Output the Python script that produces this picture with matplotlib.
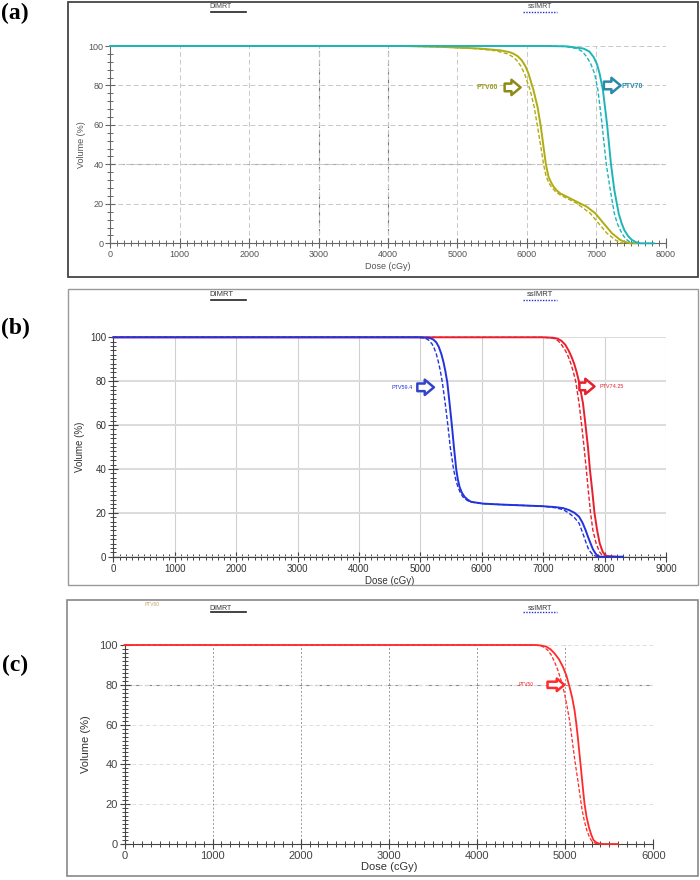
import matplotlib
matplotlib.use("Agg")
import matplotlib.pyplot as plt
from matplotlib.patches import Rectangle
from matplotlib.lines import Line2D
from matplotlib.ticker import MultipleLocator

# ---------------- data ----------------
# Panel (a)
a_ptv60_dimrt_dose = [0, 4200, 4800, 5327, 5615, 5750, 5808, 5870, 5928, 5980, 6024, 6096, 6154, 6202,
                      6240, 6274, 6312, 6350, 6385, 6430, 6481, 6673, 6865, 6986, 7106, 7226, 7346, 7420,
                      7490, 7600]
a_ptv60_dimrt_vol = [100, 100, 99.5, 98.7, 97.8, 96.9, 96.1, 94.8, 92.7, 89.7, 86, 77.6, 69.1, 59,
                     48.9, 40.1, 33.7, 30.8, 28.7, 26.8, 25.3, 21.9, 18.5, 15.2, 10.1, 5.1, 1.7, 0.6,
                     0, 0]
a_ptv60_ss_dose = [0, 4200, 4800, 5300, 5550, 5712, 5790, 5856, 5915, 5966, 6048, 6106, 6154, 6202,
                   6240, 6279, 6315, 6351, 6410, 6481, 6721, 6913, 7034, 7154, 7274, 7330, 7394]
a_ptv60_ss_vol = [100, 100, 99.5, 98.6, 97.6, 96.1, 94.7, 92.7, 89.7, 86, 77.6, 69.1, 59, 48.9,
                  40.1, 33.7, 30.8, 28.7, 26.3, 24.5, 20.2, 15.2, 10.1, 5.1, 1.7, 0.6, 0]
a_ptv70_dimrt_dose = [0, 6300, 6577, 6817, 6900, 6962, 7010, 7048, 7096, 7154, 7212, 7260, 7322, 7365,
                      7404, 7460, 7514, 7570, 7635, 7827]
a_ptv70_dimrt_vol = [100, 100, 99.8, 98.7, 97.2, 94.4, 90.8, 86, 77.6, 60.7, 40.1, 27, 15.2, 10.2,
                     6.7, 3.6, 1.7, 0.6, 0, 0]
a_ptv70_ss_dose = [0, 6300, 6550, 6721, 6800, 6865, 6925, 6976, 7024, 7082, 7144, 7202, 7260, 7300,
                   7346, 7395, 7442, 7490, 7538]
a_ptv70_ss_vol = [100, 100, 99.8, 98.7, 97.2, 94.4, 90.6, 86, 77.6, 60.7, 40.1, 27, 15.2, 10.3,
                  6.7, 3.6, 1.7, 0.6, 0]

# Panel (b)
b_ptv594_dimrt_dose = [0, 5000, 5151, 5210, 5259, 5300, 5341, 5375, 5405, 5438, 5476, 5514, 5546, 5584,
                       5610, 5638, 5675, 5719, 5770, 5827, 6016, 6286, 7000, 7200, 7330, 7426, 7510,
                       7585, 7640, 7691, 7730, 7771, 7810, 7851, 7890, 7931, 8300]
b_ptv594_dimrt_vol = [100, 100, 99.7, 99, 97.7, 95.6, 92.4, 88.8, 84.8, 79.5, 69.7, 59.5, 50, 39.7,
                      35.2, 31.8, 29.2, 27.3, 26, 25, 24.2, 23.8, 23.0, 22.6, 22.1, 21.2, 20,
                      18.2, 15.5, 12.1, 9, 6.1, 3.4, 1.5, 0.4, 0, 0]
b_ptv594_ss_dose = [0, 4950, 5070, 5130, 5189, 5225, 5259, 5292, 5324, 5357, 5405, 5449, 5486, 5541,
                    5575, 5611, 5650, 5692, 5745, 5800, 6016, 6286, 7000, 7200, 7330, 7426, 7510,
                    7585, 7625, 7665, 7705, 7745, 7800, 7851, 7900]
b_ptv594_ss_vol = [100, 100, 99.7, 98.8, 97, 95, 92.4, 88.9, 84.8, 79.5, 69.7, 59.5, 50, 39.7,
                   35.2, 31.8, 29.2, 27.3, 26, 25, 24.2, 23.8, 23.0, 22.3, 21.4, 19.7, 17.8,
                   15.2, 12.2, 9.1, 5.8, 3, 1.2, 0.3, 0]
b_ptv7425_dimrt_dose = [0, 7000, 7160, 7230, 7293, 7360, 7415, 7460, 7505, 7545, 7585, 7649, 7691, 7729,
                        7761, 7798, 7835, 7878, 7920, 7968, 8000, 8037, 8170]
b_ptv7425_dimrt_vol = [100, 100, 99.8, 99.4, 98.5, 96.6, 93.9, 91.2, 87.9, 84.1, 79.5, 69.7, 59.5, 50,
                       39.7, 30.3, 20, 12.1, 6.1, 2.3, 1, 0.3, 0]
b_ptv7425_ss_dose = [0, 6980, 7120, 7180, 7239, 7300, 7362, 7410, 7452, 7492, 7532, 7585, 7628, 7665,
                     7702, 7734, 7771, 7809, 7862, 7915, 7950, 7984, 8100]
b_ptv7425_ss_vol = [100, 100, 99.8, 99.4, 98.5, 96.6, 93.9, 91.1, 87.9, 84.1, 79.5, 69.7, 59.5, 50,
                    39.7, 30.3, 20, 12.1, 6.1, 2.3, 1, 0.3, 0]

# Panel (c)
c_ptv50_dimrt_dose = [0, 4650, 4720, 4785, 4835, 4879, 4930, 4974, 5015, 5049, 5080, 5106, 5125, 5143,
                      5162, 5181, 5200, 5219, 5242, 5268, 5295, 5321, 5355, 5389, 5430, 5600]
c_ptv50_dimrt_vol = [100, 100, 99.8, 99.2, 97.8, 95.8, 92.8, 89.1, 84.5, 79, 73.5, 67.3, 61, 53.9,
                     45.5, 37.2, 28.6, 20.4, 13.8, 8.7, 4.8, 2, 0.7, 0.2, 0, 0]
c_ptv50_ss_dose = [0, 4620, 4700, 4747, 4800, 4842, 4880, 4917, 4955, 4992, 5020, 5049, 5072, 5094,
                   5118, 5143, 5168, 5192, 5218, 5245, 5275, 5306, 5340, 5370, 5420]
c_ptv50_ss_vol = [100, 100, 99.8, 99.2, 97.5, 95, 91.5, 87.4, 82, 75.7, 69.5, 62.3, 55, 47.2,
                  39.5, 32.2, 24.5, 17.1, 11.5, 7, 3.5, 1.2, 0.4, 0.2, 0]

panel_labels = ["(a)", "(b)", "(c)"]
legend_labels = ["DIMRT", "ssIMRT"]

# ---------------- figure ----------------
W, H = 700, 880
fig = plt.figure(figsize=(7, 8.8), dpi=100)
fig.patch.set_facecolor("white")
plt.rcParams["font.family"] = ["Liberation Sans", "DejaVu Sans"]


def fx(px):
    return px / W


def fy(py):
    return 1 - py / H


def add_ax(l, r, t, b):
    return fig.add_axes([fx(l), fy(b), (r - l) / W, (b - t) / H])


def frame(l, t, r, b, color, lw):
    fig.add_artist(Rectangle((fx(l), fy(b)), (r - l) / W, (b - t) / H, transform=fig.transFigure,
                             fill=False, ec=color, lw=lw))


def legend_row(y_text, y_line, fs=5.5, tcol="#333333"):
    fig.text(fx(221), fy(y_text), legend_labels[0], fontsize=fs, color=tcol, ha="center", va="center")
    fig.add_artist(Line2D([fx(211), fx(246)], [fy(y_line), fy(y_line)], transform=fig.transFigure,
                          color="#222222", lw=1.2))
    fig.text(fx(540), fy(y_text), legend_labels[1], fontsize=fs, color=tcol, ha="center", va="center")
    fig.add_artist(Line2D([fx(523), fx(557)], [fy(y_line), fy(y_line)], transform=fig.transFigure,
                          color="#2233cc", lw=1.0, ls=(0, (1, 1))))


def arrow(ax, x1, x2, y, color, scale=11):
    ax.annotate("", xy=(x2, y), xytext=(x1, y),
                arrowprops=dict(arrowstyle="simple,head_length=0.6,head_width=1.0,tail_width=0.5",
                                fc="white", ec=color, lw=1.8, mutation_scale=scale,
                                shrinkA=0, shrinkB=0))


def style_axes(ax, xmax, xmajor, xminor, yminor, tick_fs, tick_col, spine_col):
    ax.set_xlim(0, xmax)
    ax.set_ylim(0, 100)
    ax.xaxis.set_major_locator(MultipleLocator(xmajor))
    ax.xaxis.set_minor_locator(MultipleLocator(xminor))
    ax.yaxis.set_major_locator(MultipleLocator(20))
    ax.yaxis.set_minor_locator(MultipleLocator(yminor))
    for s in ["top", "right"]:
        ax.spines[s].set_visible(False)
    for s in ["left", "bottom"]:
        ax.spines[s].set_color(spine_col)
        ax.spines[s].set_linewidth(0.8)
    ax.tick_params(which="major", direction="inout", length=7, width=0.8, color=spine_col,
                   labelsize=tick_fs, labelcolor=tick_col, pad=1.5)
    ax.tick_params(which="minor", direction="inout", length=4, width=0.7, color=spine_col)
    ax.set_facecolor("white")
    ax.set_axisbelow(True)


# ======== Panel (a) ========
frame(68, 2, 698, 277, "#444444", 1.3)
fig.text(fx(15), fy(13), panel_labels[0], fontsize=17, fontweight="bold",
         family=["Liberation Serif", "DejaVu Serif"], ha="center", va="center")
legend_row(7, 12, fs=5, tcol="#444444")
axa = add_ax(110.3, 665.7, 46, 243.3)
style_axes(axa, 8000, 1000, 100, 4, 6.5, "#555555", "#666666")
axa.grid(True, which="major", ls=(0, (5, 3)), color="#c8c8c8", lw=0.7)
for xv in [3000, 4000]:
    axa.axvline(xv, color="#777777", lw=0.8, ls=(0, (5, 3)), zorder=0.5)
axa.axhline(40, color="#aaaaaa", lw=0.8, ls=(0, (5, 3)), zorder=0.5)
olive = "#b0ac14"
cyan = "#1fb5b8"
axa.plot(a_ptv60_dimrt_dose, a_ptv60_dimrt_vol, color=olive, lw=1.4, clip_on=False, zorder=3)
axa.plot(a_ptv60_ss_dose, a_ptv60_ss_vol, color=olive, lw=1.0, ls=(0, (3, 1.5)), clip_on=False, zorder=3)
axa.plot(a_ptv70_dimrt_dose, a_ptv70_dimrt_vol, color=cyan, lw=1.4, clip_on=False, zorder=3)
axa.plot(a_ptv70_ss_dose, a_ptv70_ss_vol, color=cyan, lw=1.0, ls=(0, (3, 1.5)), clip_on=False, zorder=3)
axa.text(5430, 79, "PTV60", fontsize=5, color="#9c9a20", fontweight="bold", ha="center", va="center")
arrow(axa, 5680, 5910, 79, "#8e8a1a")
arrow(axa, 7110, 7350, 80, "#2a8aa8")
axa.text(7370, 79.5, "PTV70", fontsize=5, color="#2a8aa8", fontweight="bold", ha="left", va="center")
axa.set_xlabel("Dose (cGy)", fontsize=6.5, color="#555555", labelpad=2)
axa.set_ylabel("Volume (%)", fontsize=6.5, color="#555555", labelpad=2)

# ======== Panel (b) ========
frame(68, 289, 698, 585, "#999999", 1.0)
fig.text(fx(15), fy(328), panel_labels[1], fontsize=17, fontweight="bold",
         family=["Liberation Serif", "DejaVu Serif"], ha="center", va="center")
legend_row(294, 300, fs=5.5, tcol="#333333")
axb = add_ax(113.4, 666, 337.3, 556.7)
style_axes(axb, 9000, 1000, 100, 2, 7, "#333333", "#444444")
axb.grid(True, which="major", axis="x", color="#d0d0d0", lw=0.8)
axb.grid(True, which="major", axis="y", color="#dcdcdc", lw=1.4)
blue = "#2233dd"
red = "#e8202e"
axb.plot(b_ptv7425_dimrt_dose, b_ptv7425_dimrt_vol, color=red, lw=1.4, clip_on=False, zorder=2.9)
axb.plot(b_ptv7425_ss_dose, b_ptv7425_ss_vol, color=red, lw=1.0, ls=(0, (3, 1.5)), clip_on=False, zorder=2.9)
axb.plot(b_ptv594_dimrt_dose, b_ptv594_dimrt_vol, color=blue, lw=1.4, clip_on=False, zorder=3)
axb.plot(b_ptv594_ss_dose, b_ptv594_ss_vol, color=blue, lw=1.0, ls=(0, (3, 1.5)), clip_on=False, zorder=3)
axb.text(4710, 77.3, "PTV59.4", fontsize=4, color=blue, ha="center", va="center")
arrow(axb, 4950, 5220, 77.2, "#3344cc")
arrow(axb, 7590, 7835, 77.6, red)
axb.text(7910, 77.6, "PTV74.25", fontsize=4, color=red, ha="left", va="center")
axb.set_xlabel("Dose (cGy)", fontsize=7, color="#333333", labelpad=2)
axb.set_ylabel("Volume (%)", fontsize=7, color="#333333", labelpad=4)

# ======== Panel (c) ========
frame(67, 600, 698, 876, "#888888", 1.2)
fig.text(fx(15), fy(665), panel_labels[2], fontsize=17, fontweight="bold",
         family=["Liberation Serif", "DejaVu Serif"], ha="center", va="center")
fig.text(fx(152), fy(604), "PTV60", fontsize=3.5, color="#c8a070", ha="center", va="center")
legend_row(609, 612, fs=5, tcol="#333333")
axc = add_ax(124.5, 653.3, 645, 844)
style_axes(axc, 6000, 1000, 100, 2, 8, "#444444", "#444444")
axc.grid(True, which="major", axis="x", color="#9a9a9a", lw=0.7, ls=(0, (2, 2)))
axc.grid(True, which="major", axis="y", color="#dddddd", lw=0.7, ls=(0, (4, 3)))
axc.axhline(80, color="#888888", lw=0.8, ls=(0, (6, 3)), zorder=0.5)
red_c = "#ff2a2a"
axc.plot(c_ptv50_dimrt_dose, c_ptv50_dimrt_vol, color=red_c, lw=1.3, clip_on=False, zorder=3)
axc.plot(c_ptv50_ss_dose, c_ptv50_ss_vol, color=red_c, lw=0.9, ls=(0, (3, 1.5)), clip_on=False, zorder=3)
axc.text(4560, 80, "PTV50", fontsize=3.5, color=red_c, ha="center", va="center")
arrow(axc, 4800, 4990, 80, red_c, scale=9)
axc.set_xlabel("Dose (cGy)", fontsize=8, color="#333333", labelpad=1)
axc.set_ylabel("Volume (%)", fontsize=8, color="#333333", labelpad=6)

fig.savefig("out.png", dpi=100, facecolor="white")
